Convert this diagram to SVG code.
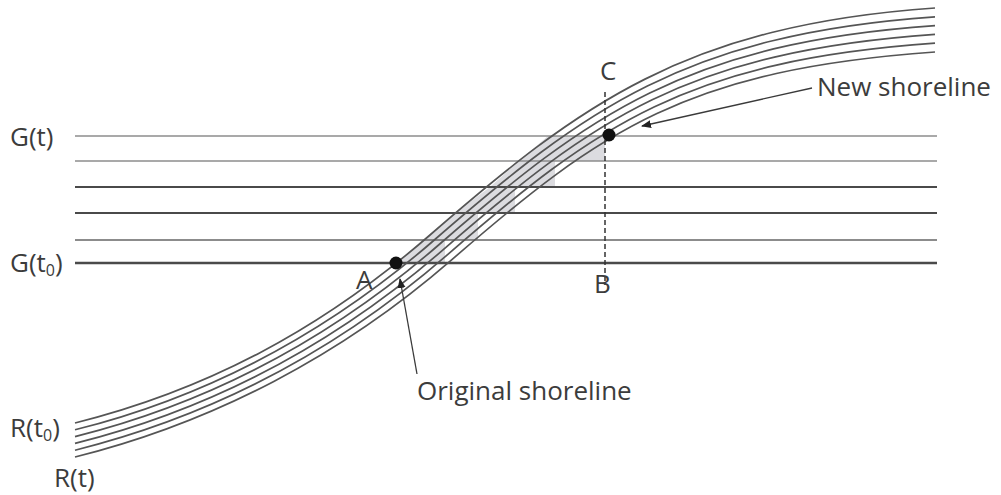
<svg xmlns="http://www.w3.org/2000/svg" width="1001" height="495" viewBox="0 0 1001 495">
<style>
.lbl{font-family:"Open Sans","Liberation Sans",sans-serif;font-size:26px;fill:#3c3c3c}
.sub{font-size:16px}
.hthin{stroke:#8c8c8c;stroke-width:1.4;fill:none}
.hdark{stroke:#4a4a4a;stroke-width:2;fill:none}
.cur{stroke:#555;stroke-width:1.7;fill:none}
.ptr{stroke:#3a3a3a;stroke-width:1.3;fill:none;marker-end:url(#ah)}
</style>
<defs>
<marker id="ah" viewBox="0 0 10 10" refX="9" refY="5" markerWidth="10" markerHeight="10" markerUnits="userSpaceOnUse" orient="auto">
<path d="M0,1 L10,5 L0,9 Z" fill="#222"/>
</marker>
</defs>
<rect width="1001" height="495" fill="#fff"/>
<g id="shading">
<path d="M397,263 L445,263 L445,240 L478,240 L478,213 L515,213 L515,187 L555,187 L555,161 L605,161 L605,136 L548,136 L520,160 L490,187 L455,213 L423,240 Z" fill="#dcdce0"/>
</g>
<g id="levels">
<line class="hthin" x1="75" y1="136" x2="937" y2="136"/>
<line class="hthin" x1="75" y1="161" x2="937" y2="161"/>
<line class="hdark" x1="75" y1="187" x2="937" y2="187"/>
<line class="hdark" x1="75" y1="213" x2="937" y2="213"/>
<line class="hthin" x1="75" y1="240" x2="937" y2="240" style="stroke:#666;stroke-width:1.7"/>
<line class="hdark" x1="75" y1="263" x2="937" y2="263" style="stroke-width:2.4"/>
</g>
<g id="profiles">
<path class="cur" d="M75,423 C205,390.5 320,330.7 430,235 C580,104.5 685,25.5 935,8"/>
<path class="cur" d="M75,429.8 C206.6,396.9 324.3,335.7 434.3,240 C584.3,109.5 685.6,34.3 935,16.8"/>
<path class="cur" d="M75,436.6 C208.2,403.3 328.6,340.7 438.6,245 C588.6,114.5 686.2,43.1 935,25.6"/>
<path class="cur" d="M75,443.4 C209.8,409.7 333,345.6 443,249.9 C593,119.4 686.8,51.9 935,34.4"/>
<path class="cur" d="M75,450.2 C211.4,416.1 337.3,350.6 447.3,254.9 C597.3,124.4 687.4,60.7 935,43.2"/>
<path class="cur" d="M75,457 C213,422.5 341.6,355.6 451.6,259.9 C601.6,129.4 688,69.5 935,52"/>
</g>
<g id="connectors">
<line x1="605" y1="92" x2="605" y2="285" stroke="#333" stroke-width="1.5" stroke-dasharray="5,3"/>
<line class="ptr" x1="812" y1="88" x2="642" y2="126"/>
<line class="ptr" x1="417" y1="374" x2="400" y2="279"/>
</g>
<g id="pointA"><circle cx="396" cy="263" r="6.5" fill="#111"/><text class="lbl" x="356" y="289">A</text></g>
<g id="pointB"><text class="lbl" x="594" y="293">B</text></g>
<g id="pointC"><circle cx="609" cy="135" r="6.5" fill="#111"/><text class="lbl" x="600" y="80">C</text></g>
<g id="labels">
<text class="lbl" x="10" y="146">G(t)</text>
<text class="lbl" x="10" y="272">G(t<tspan class="sub" dy="4">0</tspan><tspan dy="-4">)</tspan></text>
<text class="lbl" x="10" y="437">R(t<tspan class="sub" dy="4">0</tspan><tspan dy="-4">)</tspan></text>
<text class="lbl" x="54" y="487">R(t)</text>
<text class="lbl" x="817" y="96">New shoreline</text>
<text class="lbl" x="417" y="400">Original shoreline</text>
</g>
</svg>
